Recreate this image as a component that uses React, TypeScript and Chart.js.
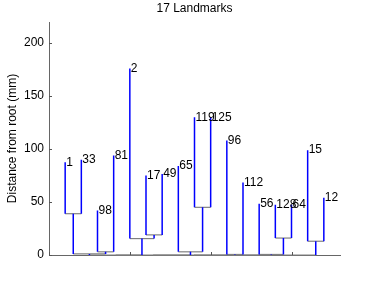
import { useEffect, useRef } from "react";
import { Chart, registerables } from "chart.js";
Chart.register(...registerables);

const leafLabels = ["1", "33", "98", "81", "2", "17", "49", "65", "119", "125", "96", "112", "56", "128", "64", "15", "12"];
const leafHeights = [87.5, 90, 42, 94, 176, 75, 76.5, 84, 130, 130, 108, 68.5, 48.5, 47.5, 47.5, 99, 54];
// merges: node index = 17 + row
const mergeLeft = [0, 2, 17, 5, 4, 8, 7, 10, 13, 12, 15, 19, 28, 29, 30, 31];
const mergeRight = [1, 3, 18, 6, 20, 9, 22, 11, 14, 25, 16, 21, 23, 24, 26, 27];
const mergeHeights = [39, 3, 1, 19, 15.5, 45, 3, 0.5, 16, 0.5, 13, 0, 0, 0, 0, 0];
const yTicks = [0, 50, 100, 150, 200];
const xTicks = [0, 5, 10, 15];
const titleText = "17 Landmarks";
const yTitle = "Distance from root (mm)";

const FONT = "'Liberation Sans', Arial, Helvetica, sans-serif";

export default function App() {
  const ref = useRef<HTMLCanvasElement | null>(null);
  useEffect(() => {
    if (!ref.current) return;
    const n = leafHeights.length;
    const xs: number[] = [];
    const hs: number[] = [];
    const parent: number[] = [];
    for (let i = 0; i < n; i++) {
      xs.push(i + 1);
      hs.push(leafHeights[i]);
      parent.push(-1);
    }
    mergeLeft.forEach((a, r) => {
      const b = mergeRight[r];
      const id = n + r;
      xs.push((xs[a] + xs[b]) / 2);
      hs.push(mergeHeights[r]);
      parent.push(-1);
      parent[a] = id;
      parent[b] = id;
    });
    const datasets: any[] = [];
    for (let i = 0; i < xs.length; i++) {
      if (parent[i] < 0) continue;
      datasets.push({
        data: [
          { x: xs[i], y: hs[i] },
          { x: xs[i], y: hs[parent[i]] },
        ],
        showLine: true,
        borderColor: "#0000ff",
        borderWidth: 1.5,
        pointRadius: 0,
        order: 0,
        clip: false,
      });
    }
    mergeLeft.forEach((a, r) => {
      const b = mergeRight[r];
      datasets.push({
        data: [
          { x: xs[a], y: mergeHeights[r] },
          { x: xs[b], y: mergeHeights[r] },
        ],
        showLine: true,
        borderColor: "#808080",
        borderWidth: 1.2,
        pointRadius: 0,
        order: 1,
        clip: false,
      });
    });

    const extras = {
      id: "extras",
      afterDatasetsDraw(chart: any) {
        const { ctx, scales, chartArea } = chart;
        const sx = scales.x;
        const sy = scales.y;
        ctx.save();
        ctx.font = `12px ${FONT}`;
        ctx.fillStyle = "#000";
        ctx.textAlign = "left";
        ctx.textBaseline = "middle";
        for (let i = 0; i < n; i++) {
          ctx.fillText(leafLabels[i], sx.getPixelForValue(i + 1) + 1, sy.getPixelForValue(leafHeights[i]));
        }
        ctx.strokeStyle = "#555";
        ctx.lineWidth = 1;
        ctx.beginPath();
        yTicks.forEach((t) => {
          const y = Math.round(sy.getPixelForValue(t)) + 0.5;
          ctx.moveTo(chartArea.left, y);
          ctx.lineTo(chartArea.left + 3, y);
        });
        xTicks.forEach((t) => {
          const x = Math.round(sx.getPixelForValue(t)) + 0.5;
          ctx.moveTo(x, chartArea.bottom);
          ctx.lineTo(x, chartArea.bottom - 3);
        });
        ctx.stroke();
        ctx.restore();
      },
    };

    const chart = new Chart(ref.current, {
      type: "scatter",
      data: { datasets },
      options: {
        responsive: false,
        animation: false,
        layout: { padding: { left: 0, right: 34, top: 0, bottom: 0 } },
        plugins: {
          legend: { display: false },
          tooltip: { enabled: false },
          title: {
            display: true,
            text: titleText,
            fullSize: false,
            color: "#000",
            font: { family: FONT, size: 12, weight: "normal" },
            padding: { top: 1, bottom: 6.6 },
          },
        },
        scales: {
          x: {
            type: "linear",
            min: 0,
            max: 18,
            grid: { display: false, drawTicks: false },
            border: { display: true, color: "#666", width: 1 },
            ticks: { display: false },
            afterFit: (s: any) => {
              s.height = 33;
            },
          },
          y: {
            type: "linear",
            min: 0,
            max: 220,
            grid: { display: false, drawTicks: false },
            border: { display: true, color: "#666", width: 1 },
            ticks: {
              color: "#000",
              padding: 5,
              font: { family: FONT, size: 12 },
            },
            afterBuildTicks: (s: any) => {
              s.ticks = yTicks.map((v) => ({ value: v }));
            },
            afterFit: (s: any) => {
              s.width = 49;
            },
            title: {
              display: true,
              text: yTitle,
              color: "#000",
              font: { family: FONT, size: 12 },
              padding: { top: 5, bottom: 4 },
            },
          },
        },
      },
      plugins: [extras],
    });
    return () => chart.destroy();
  }, []);
  return (
    <div style={{ position: "fixed", left: 0, top: 0, width: 374, height: 288, background: "#fff" }}>
      <canvas ref={ref} width={374} height={288} style={{ display: "block" }} />
    </div>
  );
}
